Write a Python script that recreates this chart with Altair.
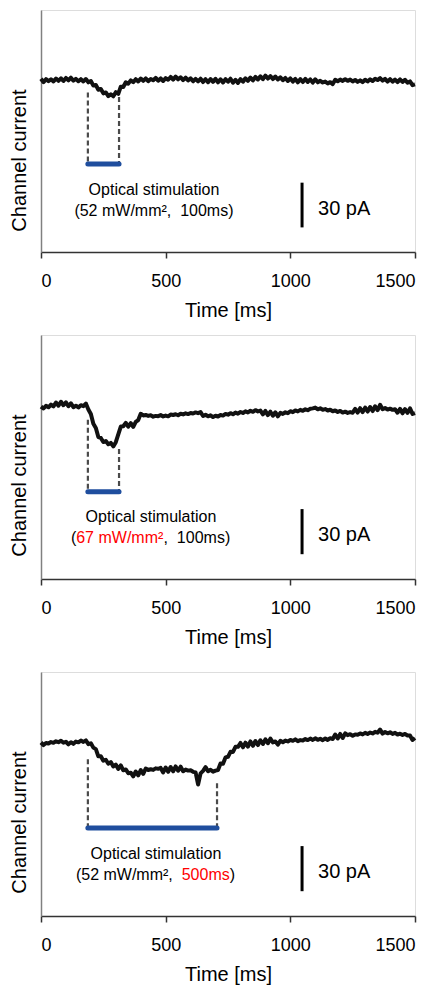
import altair as alt
import pandas as pd

# ---------------- data ----------------
TIME_MS = list(range(0, 1501, 10))

# current in pA relative to the pre-stimulus baseline
TRACE_A = [
    1.2, -1.1, 0.9, -0.4, 0.8, -0.6, 1.3, -0.2, 1.5, -0.3,
    1.7, 0.1, 1.9, -0.1, 1.1, -0.5, 0.9, -0.6, 1.0, -1.2,
    -0.3, -3.4, -3.0, -6.2, -5.7, -8.6, -8.0, -10.5, -9.2, -10.6,
    -7.8, -8.9, -4.1, -4.3, -1.2, -2.1, 0.1, -1.1, 0.9, -0.6,
    1.3, -0.2, 1.4, -0.4, 1.0, 0.2, 1.8, -0.1, 1.4, -0.3,
    1.6, 0.5, 2.4, 0.6, 2.7, 0.8, 2.2, 0.3, 1.9, 0.1,
    1.4, -0.5, 1.1, -0.6, 1.2, -1.0, 0.9, -1.1, 1.0, -0.9,
    1.1, -1.2, 0.8, -1.3, 0.9, -0.8, 1.2, -1.5, 0.5, -1.6,
    0.9, -0.8, 1.5, -0.2, 2.0, 0.1, 2.4, 0.7, 2.8, 0.9,
    3.3, 1.3, 3.0, 1.0, 2.7, 0.7, 2.2, 0.2, 1.7, -0.3,
    1.4, -0.7, 1.1, -1.2, 0.9, -1.0, 1.1, -0.9, 0.7, -1.4,
    0.8, -1.2, -0.2, -1.3, -0.7, -1.9, -1.1, -2.4, 0.5, -0.5,
    0.6, -0.3, 0.9, -0.2, 0.6, -0.6, 0.4, -0.9, 0.1, -1.1,
    0.5, -0.6, 0.8, -0.3, 1.2, 0.3, 1.6, -0.1, 1.1, -0.7,
    0.9, -0.8, 0.6, -1.0, 0.7, -0.9, 0.5, -1.5, -0.6, -3.1,
    -2.6,
]
TRACE_B = [
    -0.3, -1.6, 0.2, -0.8, 1.0, -0.2, 2.4, 0.3, 2.9, 0.6,
    2.5, -0.1, 1.9, -0.7, 0.3, -0.9, 0.6, 0.0, 1.7, -2.2,
    -5.2, -11.8, -14.6, -20.6, -21.2, -23.9, -23.2, -25.4, -24.5, -26.8,
    -24.0, -18.8, -13.6, -13.4, -11.1, -13.7, -11.3, -13.8, -10.5, -9.3,
    -5.1, -6.2, -5.9, -6.5, -6.1, -7.0, -6.5, -6.7, -6.0, -6.9,
    -6.3, -6.8, -5.6, -5.9, -5.4, -6.1, -5.1, -5.5, -4.8, -5.3,
    -4.6, -4.9, -4.2, -4.7, -4.0, -6.6, -5.8, -6.8, -6.1, -7.3,
    -6.4, -6.9, -5.9, -6.3, -5.2, -5.7, -4.7, -5.4, -4.3, -5.0,
    -3.9, -4.6, -3.5, -4.2, -3.1, -3.8, -2.7, -3.5, -3.0, -5.5,
    -3.2, -6.0, -3.7, -6.4, -4.1, -6.8, -4.5, -5.2, -4.1, -4.7,
    -3.4, -4.0, -2.9, -3.5, -2.5, -3.1, -2.1, -2.7, -1.8, -1.5,
    -1.0, -2.1, -1.5, -2.4, -2.0, -2.9, -2.4, -3.4, -2.9, -3.9,
    -3.2, -4.3, -3.7, -4.5, -4.0, -4.4, -1.9, -4.3, -1.4, -4.0,
    -1.0, -3.6, -0.6, -3.3, -0.1, -2.7, 0.9, -2.1, -1.3, -2.3,
    -1.7, -2.5, -2.1, -4.4, -1.8, -4.8, -2.0, -4.5, -1.5, -5.2,
    -4.6,
]
TRACE_C = [
    0.4, -1.3, 0.1, -0.3, 0.7, 0.2, 1.2, 0.6, 1.6, 0.3,
    0.9, -0.8, 0.6, -0.5, 1.0, 0.5, 1.7, 0.8, 1.8, -0.7,
    -0.1, -3.0, -4.0, -8.8, -8.7, -11.7, -11.1, -13.7, -12.6, -15.5,
    -14.3, -17.2, -14.8, -18.1, -17.5, -20.0, -19.7, -22.1, -18.9, -21.4,
    -18.0, -20.5, -16.9, -17.9, -17.4, -17.8, -16.8, -17.1, -16.5, -19.5,
    -16.2, -19.1, -15.9, -18.8, -15.5, -18.4, -15.7, -18.7, -17.6, -18.3,
    -18.1, -19.1, -19.5, -27.5, -20.1, -18.5, -16.0, -18.7, -17.7, -19.0,
    -18.3, -17.9, -13.6, -13.7, -9.5, -9.1, -5.8, -5.9, -2.5, -2.5,
    0.1, -2.8, 0.3, -2.3, 1.1, -1.8, 1.4, -1.3, 1.9, -0.6,
    2.5, -0.1, 3.0, 0.5, 1.1, -1.0, 1.5, 0.6, 1.7, 1.1,
    2.1, 1.5, 2.5, 1.3, 2.0, 1.7, 2.7, 2.0, 3.0, 2.1,
    3.2, 2.2, 2.9, 1.9, 3.1, 2.1, 3.3, 2.7, 5.7, 3.1,
    6.1, 3.4, 6.5, 5.3, 5.9, 4.9, 5.8, 5.5, 6.4, 5.8,
    6.8, 6.1, 7.0, 6.4, 7.5, 6.9, 9.0, 6.3, 7.4, 6.5,
    7.2, 6.1, 6.8, 5.7, 6.3, 5.4, 6.1, 5.1, 5.0, 2.1,
    3.4,
]
TRACES = [TRACE_A, TRACE_B, TRACE_C]

STIM_ON = [188, 188, 188]          # ms
STIM_OFF = [313, 313, 706]         # ms
DASH_ON_TOP = [-8.0, -9.0, -10.7]  # pA
DASH_OFF_TOP = [-11.0, -28.5, -26.7]
STIM_BAR_LEVEL = [-56.0, -57.0, -56.5]

SCALE_BAR_T = 1047
SCALE_BAR_TOP = -68.5
SCALE_BAR_PA = 30

NBSP = "\u00a0"
LABEL_STIM = "Optical stimulation"
LABEL_SCALE = "30 pA"
LINE2_SEGMENTS = [
    [("(52 mW/mm², " + NBSP + "100ms)", "black")],
    [("(", "black"), ("67 mW/mm²", "red"), (", " + NBSP + "100ms)", "black")],
    [("(52 mW/mm²,", "black"), ("500ms", "red"), (")", "black")],
]

# ---------------- annotation placement ----------------
LINE1_T = [453, 441, 461]
LINE2_T = [453, 120, 140]
LINE2_ALIGN = ["center", "left", "left"]
LINE2_DX = [[0], [0, 5.3, 92.6], [0, 105.8, 153.8]]
LINE1_Y = -73.5
LINE2_Y = -87.5
SCALE_TEXT_T = 1111
SCALE_TEXT_Y = -86.0
Y_DOMAIN = [-115.0, 47.3]

FONT = "Liberation Sans"
BLUE = "#1f4e9e"
RED = "#ff0000"


def panel(k, height):
    x_title = "Time [ms]" if k != 1 else ["Time [ms]", " "]
    X = alt.X(
        "t:Q",
        scale=alt.Scale(domain=[0, 1500], nice=False, zero=False),
        axis=alt.Axis(
            values=[0, 500, 1000, 1500],
            title=x_title,
            titleLineHeight=10,
            grid=False,
            tickSize=6,
            tickWidth=1.5,
            tickColor="#333333",
            domainColor="#333333",
            domainWidth=1.5,
            labelFontSize=18,
            labelPadding=14,
            labelColor="black",
            labelFont=FONT,
            titleFont=FONT,
            titleFontSize=20,
            titleFontWeight="normal",
            titleColor="black",
            titlePadding=10,
            format="d",
        ),
    )
    Y = alt.Y(
        "i:Q",
        scale=alt.Scale(domain=Y_DOMAIN, nice=False, zero=False),
        axis=alt.Axis(
            title="Channel current",
            labels=False,
            ticks=False,
            grid=False,
            domainColor="#808080",
            domainWidth=1.5,
            titleFont=FONT,
            titleFontSize=20,
            titleFontWeight="normal",
            titleColor="black",
            titlePadding=12,
            titleY=150,
        ),
    )

    trace_df = pd.DataFrame({"t": TIME_MS, "i": TRACES[k]})
    trace = alt.Chart(trace_df).mark_line(
        color="#111111", strokeWidth=4, strokeJoin="round"
    ).encode(x=X, y=Y)

    dash_df = pd.DataFrame({
        "t": [STIM_ON[k], STIM_OFF[k]],
        "i": [DASH_ON_TOP[k], DASH_OFF_TOP[k]],
        "i2": [STIM_BAR_LEVEL[k], STIM_BAR_LEVEL[k]],
    })
    dashes = alt.Chart(dash_df).mark_rule(
        color="#4a4a4a", strokeWidth=2.2, strokeDash=[5, 3]
    ).encode(x=X, y=Y, y2="i2:Q")

    bar_df = pd.DataFrame({"t": [STIM_ON[k]], "t2": [STIM_OFF[k]], "i": [STIM_BAR_LEVEL[k]]})
    bar = alt.Chart(bar_df).mark_rule(
        color=BLUE, strokeWidth=5, strokeCap="round"
    ).encode(x=X, x2="t2:Q", y=Y)

    sb_df = pd.DataFrame({"t": [SCALE_BAR_T], "i": [SCALE_BAR_TOP],
                          "i2": [SCALE_BAR_TOP - SCALE_BAR_PA]})
    scalebar = alt.Chart(sb_df).mark_rule(color="black", strokeWidth=3).encode(
        x=X, y=Y, y2="i2:Q"
    )

    sbt_df = pd.DataFrame({"t": [SCALE_TEXT_T], "i": [SCALE_TEXT_Y], "label": [LABEL_SCALE]})
    scale_text = alt.Chart(sbt_df).mark_text(
        align="left", baseline="middle", font=FONT, fontSize=20, color="black"
    ).encode(x=X, y=Y, text="label:N")

    l1_df = pd.DataFrame({"t": [LINE1_T[k]], "i": [LINE1_Y], "label": [LABEL_STIM]})
    line1 = alt.Chart(l1_df).mark_text(
        align="center", baseline="middle", font=FONT, fontSize=16, color="black"
    ).encode(x=X, y=Y, text="label:N")

    layers = [trace, dashes, bar, scalebar, scale_text, line1]
    for (txt, col), dx in zip(LINE2_SEGMENTS[k], LINE2_DX[k]):
        seg_df = pd.DataFrame({"t": [LINE2_T[k]], "i": [LINE2_Y], "label": [txt]})
        layers.append(
            alt.Chart(seg_df).mark_text(
                align=LINE2_ALIGN[k], baseline="middle", font=FONT, fontSize=16,
                color=RED if col == "red" else "black", dx=dx,
            ).encode(x=X, y=Y, text="label:N")
        )
    return alt.layer(*layers).properties(width=374, height=height)


chart = alt.vconcat(
    panel(0, 242), panel(1, 244), panel(2, 244), spacing=13
).properties(
    padding={"left": 0, "top": 1, "right": 0, "bottom": 0}
).configure_view(stroke=None).configure(font=FONT)

chart.save("out.html", embed_options={"renderer": "svg", "actions": False})
